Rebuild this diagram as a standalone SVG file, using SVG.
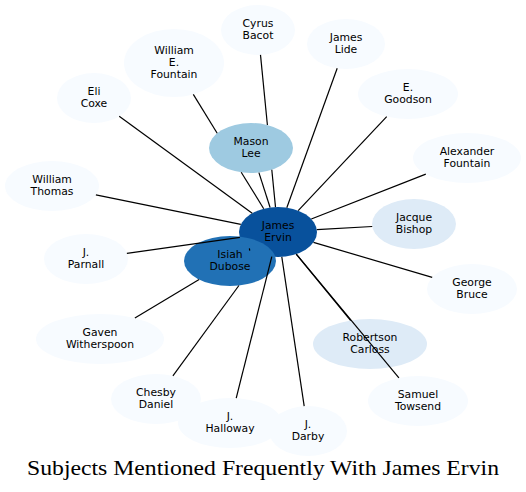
<svg xmlns="http://www.w3.org/2000/svg" width="526" height="492" viewBox="0 0 526 492">
<style>
.leaf{fill:#f7fbff}
.mid{fill:#deebf7}
.n text{font-family:"DejaVu Sans",Verdana,sans-serif;font-size:10.8px;fill:#000;text-anchor:middle}
#connectors line{stroke:#000;stroke-width:1.2;fill:none;stroke-linecap:butt}
.title{font-family:"Liberation Serif","Times New Roman",serif;font-size:21px;fill:#000;text-anchor:middle}
</style>
<rect width="526" height="492" fill="#fff"/>
<g id="nodes">
<g id="n-bacot" class="n"><ellipse class="leaf" cx="258" cy="30" rx="37" ry="25"/><text x="258" y="27.3">Cyrus</text><text x="258" y="39.3">Bacot</text></g>
<g id="n-lide" class="n"><ellipse class="leaf" cx="346" cy="44" rx="39" ry="25"/><text x="346" y="41.3">James</text><text x="346" y="53.3">Lide</text></g>
<g id="n-wefountain" class="n"><ellipse class="leaf" cx="174" cy="63" rx="50" ry="34"/><text x="174" y="54.3">William</text><text x="174" y="66.3">E.</text><text x="174" y="78.3">Fountain</text></g>
<g id="n-coxe" class="n"><ellipse class="leaf" cx="94" cy="98" rx="37" ry="25"/><text x="94" y="95.3">Eli</text><text x="94" y="107.3">Coxe</text></g>
<g id="n-goodson" class="n"><ellipse class="leaf" cx="408" cy="94" rx="50" ry="25"/><text x="408" y="91.3">E.</text><text x="408" y="103.3">Goodson</text></g>
<g id="n-afountain" class="n"><ellipse class="leaf" cx="467" cy="158" rx="54" ry="25"/><text x="467" y="155.3">Alexander</text><text x="467" y="167.3">Fountain</text></g>
<g id="n-wthomas" class="n"><ellipse class="leaf" cx="52" cy="186" rx="47" ry="25"/><text x="52" y="183.3">William</text><text x="52" y="195.3">Thomas</text></g>
<g id="n-parnall" class="n"><ellipse class="leaf" cx="86" cy="259" rx="42" ry="25"/><text x="86" y="256.3">J.</text><text x="86" y="268.3">Parnall</text></g>
<g id="n-witherspoon" class="n"><ellipse class="leaf" cx="100" cy="339" rx="64" ry="25"/><text x="100" y="336.3">Gaven</text><text x="100" y="348.3">Witherspoon</text></g>
<g id="n-daniel" class="n"><ellipse class="leaf" cx="156" cy="399" rx="45" ry="25"/><text x="156" y="396.3">Chesby</text><text x="156" y="408.3">Daniel</text></g>
<g id="n-darby" class="n"><ellipse class="leaf" cx="308" cy="431" rx="39" ry="25"/><text x="308" y="428.3">J.</text><text x="308" y="440.3">Darby</text></g>
<g id="n-halloway" class="n"><ellipse class="leaf" cx="230" cy="423" rx="52" ry="25"/><text x="230" y="420.3">J.</text><text x="230" y="432.3">Halloway</text></g>
<g id="n-towsend" class="n"><ellipse class="leaf" cx="418" cy="401" rx="50" ry="25"/><text x="418" y="398.3">Samuel</text><text x="418" y="410.3">Towsend</text></g>
<g id="n-bruce" class="n"><ellipse class="leaf" cx="472" cy="289" rx="45" ry="25"/><text x="472" y="286.3">George</text><text x="472" y="298.3">Bruce</text></g>
<g id="n-bishop" class="n"><ellipse class="mid" cx="414" cy="224" rx="42" ry="25"/><text x="414" y="221.3">Jacque</text><text x="414" y="233.3">Bishop</text></g>
<g id="n-carloss" class="n"><ellipse class="mid" cx="370" cy="344" rx="57" ry="25"/><text x="370" y="341.3">Robertson</text><text x="370" y="353.3">Carloss</text></g>
<g id="n-mason" class="n"><ellipse fill="#9ecae1" cx="251" cy="148" rx="42" ry="25"/><text x="251" y="145.3">Mason</text><text x="251" y="157.3">Lee</text></g>
<g id="n-ervin" class="n"><ellipse fill="#08519c" cx="278" cy="232" rx="39" ry="25"/><text x="278" y="229.3">James</text><text x="278" y="241.3">Ervin</text></g>
<g id="n-dubose" class="n"><ellipse fill="#2171b5" cx="230" cy="261" rx="46" ry="25"/><text x="230" y="258.3">Isiah</text><text x="230" y="270.3">Dubose</text></g>
</g>
<g id="connectors">
<line x1="260.5" y1="54.9" x2="267.4" y2="125"/>
<line x1="271.8" y1="169.7" x2="275.5" y2="207.1"/>
<line x1="193.3" y1="94.4" x2="217.2" y2="133.2"/>
<line x1="241.2" y1="172.2" x2="263.7" y2="208.7"/>
<line x1="337.2" y1="68.3" x2="286.8" y2="207.7"/>
<line x1="119.2" y1="116.3" x2="252.2" y2="213.2"/>
<line x1="386.7" y1="116.6" x2="298.2" y2="210.6"/>
<line x1="425.8" y1="174.1" x2="311.3" y2="219"/>
<line x1="372.2" y1="226.5" x2="316.8" y2="229.7"/>
<line x1="432.2" y1="277.3" x2="313.5" y2="242.4"/>
<line x1="350.7" y1="320.5" x2="296.2" y2="254.1"/>
<line x1="398.9" y1="377.9" x2="296.3" y2="254.1"/>
<line x1="304.2" y1="406.1" x2="281.8" y2="256.9"/>
<line x1="236.2" y1="398.2" x2="271.8" y2="256.7"/>
<line x1="172.9" y1="375.8" x2="238.9" y2="285.5"/>
<line x1="134.9" y1="318" x2="199.1" y2="279.5"/>
<line x1="126.9" y1="253.3" x2="239.9" y2="237.4"/>
<line x1="95.9" y1="194.9" x2="240.8" y2="224.4"/>
<line x1="258.9" y1="172.6" x2="270.1" y2="207.5"/>
<line x1="249.4" y1="248.3" x2="249.7" y2="250.6"/>
</g>
<text class="title" x="263" y="475" textLength="472" lengthAdjust="spacingAndGlyphs">Subjects Mentioned Frequently With James Ervin</text>
</svg>
